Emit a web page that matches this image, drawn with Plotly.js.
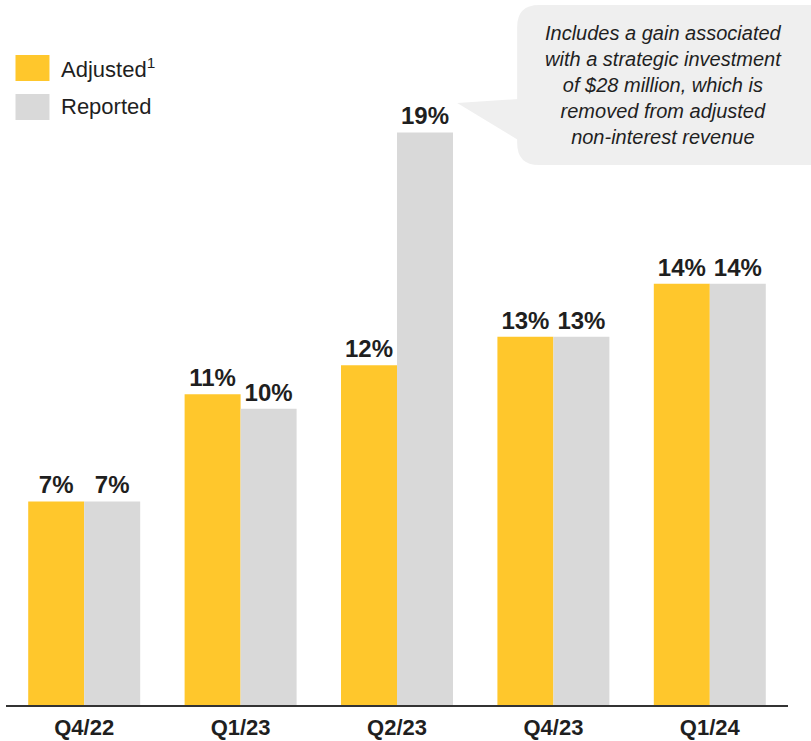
<!DOCTYPE html>
<html>
<head>
<meta charset="utf-8">
<script src="https://cdn.plot.ly/plotly-3.0.1.min.js"></script>
<style>html,body{margin:0;padding:0;background:#fff;}#chart{width:811px;height:741px;}</style>
</head>
<body>
<div id="chart"></div>
<script>
// ---- data ----
var categories = ["Q4/22", "Q1/23", "Q2/23", "Q4/23", "Q1/24"];
var adjustedValues = [6.92, 10.57, 11.55, 12.52, 14.32];
var reportedValues = [6.92, 10.07, 19.47, 12.52, 14.32];
var adjustedLabels = ["7%", "11%", "12%", "13%", "14%"];
var reportedLabels = ["7%", "10%", "19%", "13%", "14%"];
var seriesNames = ["Adjusted<sup>1</sup>", "Reported"];
var calloutText = "Includes a gain associated<br>with a strategic investment<br>of $28 million, which is<br>removed from adjusted<br>non-interest revenue";

// ---- layout geometry ----
var W = 811, H = 741;
var mL = 5.5, mR = 23, mT = 58, mB = 36;
var pw = W - mL - mR, ph = H - mT - mB;
function px(x) { return (x - mL) / pw; }
function py(y) { return (H - mB - y) / ph; }

var yellow = "#FFC72C", gray = "#D9D9D9", bubble = "#EFEFEF", ink = "#1f1f1f";
var FONT = "'Liberation Sans', Arial, sans-serif";

var traces = [
  {type: "bar", name: seriesNames[0], x: categories, y: adjustedValues,
   marker: {color: yellow}, text: adjustedLabels, textposition: "outside",
   textfont: {family: FONT, size: 24, color: ink, weight: "bold"},
   constraintext: "none", cliponaxis: false, hoverinfo: "skip", showlegend: false},
  {type: "bar", name: seriesNames[1], x: categories, y: reportedValues,
   marker: {color: gray}, text: reportedLabels, textposition: "outside",
   textfont: {family: FONT, size: 24, color: ink, weight: "bold"},
   constraintext: "none", cliponaxis: false, hoverinfo: "skip", showlegend: false}
];

// rounded callout box path (in paper coords)
var bx0 = 517, bx1 = 835, by0 = 5, by1 = 165, r = 22;
function P(x, y) { return px(x).toFixed(5) + "," + py(y).toFixed(5); }
var boxPath = "M" + P(bx0 + r, by0) + " L" + P(bx1 - r, by0) +
  " Q" + P(bx1, by0) + " " + P(bx1, by0 + r) +
  " L" + P(bx1, by1 - r) + " Q" + P(bx1, by1) + " " + P(bx1 - r, by1) +
  " L" + P(bx0 + r, by1) + " Q" + P(bx0, by1) + " " + P(bx0, by1 - r) +
  " L" + P(bx0, by0 + r) + " Q" + P(bx0, by0) + " " + P(bx0 + r, by0) + " Z";
var tailPath = "M" + P(518, 99) + " L" + P(457, 103) + " L" + P(518, 140) + " Z";

var layout = {
  width: W, height: H,
  margin: {l: mL, r: mR, t: mT, b: mB, pad: 0},
  paper_bgcolor: "#fff", plot_bgcolor: "#fff",
  font: {family: FONT, color: ink},
  barmode: "group", bargap: 0.284, bargroupgap: 0,
  showlegend: false,
  xaxis: {type: "category", range: [-0.5, 4.5], showline: true, linecolor: "#333", linewidth: 2,
          ticks: "", showgrid: false, zeroline: false, fixedrange: true, ticklabelstandoff: 2,
          tickfont: {family: FONT, size: 22, color: ink, weight: "bold"}},
  yaxis: {range: [0, 22], visible: false, showgrid: false, zeroline: false, fixedrange: true},
  shapes: [
    {type: "path", xref: "paper", yref: "paper", path: boxPath, fillcolor: bubble, line: {width: 0}, layer: "below"},
    {type: "path", xref: "paper", yref: "paper", path: tailPath, fillcolor: bubble, line: {width: 0}, layer: "below"},
    {type: "rect", xref: "paper", yref: "paper", x0: px(15), x1: px(49), y0: py(81), y1: py(55), fillcolor: yellow, line: {width: 0}},
    {type: "rect", xref: "paper", yref: "paper", x0: px(15), x1: px(49), y0: py(120), y1: py(94), fillcolor: gray, line: {width: 0}}
  ],
  annotations: [
    {xref: "paper", yref: "paper", x: px(59), y: py(68), xanchor: "left", yanchor: "middle", showarrow: false,
     text: seriesNames[0], font: {family: FONT, size: 22, color: ink}},
    {xref: "paper", yref: "paper", x: px(59), y: py(107), xanchor: "left", yanchor: "middle", showarrow: false,
     text: seriesNames[1], font: {family: FONT, size: 22, color: ink}},
    {xref: "paper", yref: "paper", x: px(663), y: py(85), xanchor: "center", yanchor: "middle", showarrow: false,
     align: "center", text: "<i>" + calloutText + "</i>", font: {family: FONT, size: 20, color: ink}}
  ]
};

Plotly.newPlot("chart", traces, layout, {displayModeBar: false, staticPlot: true});
</script>
</body>
</html>
